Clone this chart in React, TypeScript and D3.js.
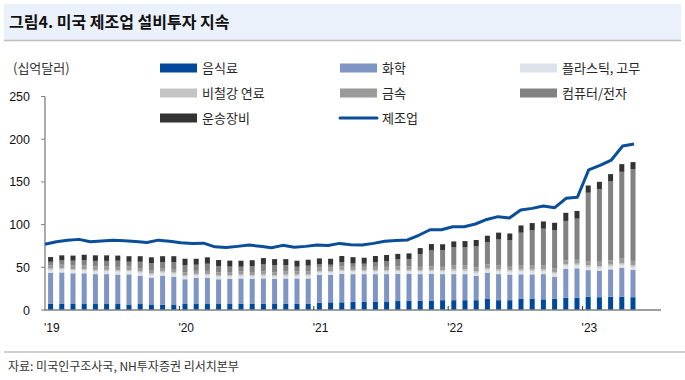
import React from "react";
import * as d3 from "d3";

const months = [
  "2019-01","2019-02","2019-03","2019-04","2019-05","2019-06","2019-07","2019-08","2019-09","2019-10","2019-11","2019-12",
  "2020-01","2020-02","2020-03","2020-04","2020-05","2020-06","2020-07","2020-08","2020-09","2020-10","2020-11","2020-12",
  "2021-01","2021-02","2021-03","2021-04","2021-05","2021-06","2021-07","2021-08","2021-09","2021-10","2021-11","2021-12",
  "2022-01","2022-02","2022-03","2022-04","2022-05","2022-06","2022-07","2022-08","2022-09","2022-10","2022-11","2022-12",
  "2023-01","2023-02","2023-03","2023-04","2023-05",
];

const food = [
  7.5, 7.5, 7, 7, 7, 7, 7, 6.5, 7, 6.5, 6, 6.5,
  7, 7, 7, 7, 7, 7.5, 7.5, 7.5, 7, 7.5, 7.5, 7.5,
  8.5, 9, 9, 9.5, 9.5, 9.5, 10, 10.5, 10.5, 11, 11, 11.5,
  11.5, 11.5, 11.5, 13, 11.5, 11.5, 13, 13.5, 12.5, 13, 14.5, 14.5,
  15.5, 15, 15.5, 15.5, 15,
];
const chemical = [
  36, 36.5, 36, 36, 35, 35, 34.5, 35.3, 33.2, 31.3, 34.2, 32.5,
  29, 30.8, 30.8, 29, 29.4, 29.5, 29, 29.5, 29.3, 29.5, 29.5, 29.5,
  32.5, 32, 33.5, 32.5, 32.5, 32.5, 32, 32, 32, 31, 31.5, 30.5,
  30.5, 30.5, 28.5, 30.6, 30.5, 30, 28.8, 28.3, 29.5, 26, 33.8, 34.3,
  31.2, 31, 32.1, 34, 32,
];
const plastic = [
  3.5, 3.5, 3.5, 3.5, 3.5, 3.5, 3.5, 3.5, 3.5, 3.5, 3.5, 3.5,
  3, 3, 3, 3, 3, 3, 3, 3, 3, 3, 3, 3,
  3, 3, 3, 3, 3, 3, 3, 3, 3, 3, 3, 3,
  3.5, 3.5, 3.5, 3.5, 3.5, 3.5, 3.5, 3.5, 3.5, 3.5, 3.5, 3.5,
  3.5, 3.5, 3.5, 3.5, 3.5,
];
const nonmetal = [
  1.5, 1.5, 1.5, 1.5, 1.5, 1.5, 1.5, 1.5, 1.5, 1.5, 1.5, 1.5,
  1.5, 1.5, 1.5, 1.5, 1.5, 1.5, 1.5, 1.5, 1.5, 1.5, 1.5, 1.5,
  1.5, 1.5, 1.5, 1.5, 1.5, 1.5, 1.5, 1.5, 1.5, 1.5, 1.5, 1.5,
  2, 2, 2, 2, 2, 2, 2, 2, 2, 2, 2, 2,
  2, 2, 2, 2, 2,
];
const metal = [
  4, 4, 4, 4, 4, 4, 4, 4, 4, 4, 4, 4,
  3.5, 3.5, 3.5, 3.5, 3.5, 3.5, 3.5, 3.5, 3.5, 3.5, 3.5, 3.5,
  4, 4, 4, 4, 4, 4, 4, 4, 4, 4, 4, 4,
  4.5, 4.5, 4.5, 4.5, 4.5, 4.5, 4.5, 4.5, 4.5, 4.5, 4.5, 4.5,
  5, 5, 5, 5, 5,
];
const computer = [
  4, 5, 5.7, 6.2, 6.5, 6.5, 7.2, 5.7, 7.3, 7.9, 6.8, 8,
  8.5, 7.2, 8.4, 7.5, 6.4, 5.7, 6.8, 8.3, 8.3, 7.6, 5.7, 6.9,
  3.9, 3.5, 5.2, 3.9, 3.7, 5.7, 6.9, 8.2, 8.8, 15, 18.7, 19.5,
  21.3, 21.7, 24.5, 25.9, 30.6, 30.1, 38.7, 41.5, 43.2, 44.6, 46, 48.2,
  80.1, 85.1, 92.5, 101.8, 107.2,
];
const transport = [
  5.5, 6, 6, 6.5, 6.5, 6.5, 6, 6.5, 6.5, 7, 7, 7,
  7.5, 7, 7.5, 7, 7, 7, 7, 7.5, 7, 7, 7, 7,
  7, 7, 7, 7.5, 7, 7, 7, 6.5, 6.5, 7, 7.5, 7,
  7, 7, 7.5, 7.5, 8, 8, 8.5, 8.5, 8.5, 8.5, 9.5, 9,
  8.5, 8.5, 8.5, 9, 8.5,
];
const manufacturing = [
  77, 80, 81.6, 82.7, 80, 80.8, 81.6, 81.2, 80.2, 79.1, 81.8, 80.6,
  78.7, 77.9, 78.3, 74, 73.2, 74.5, 76, 74.6, 73, 75.7, 73.5, 74.5,
  76, 75.5, 78, 76.5, 76, 78, 80.5, 81.5, 82, 87.5, 94, 94,
  97.5, 97.5, 100.7, 106, 109.3, 107.7, 117, 119, 121.8, 119.8, 130.8, 132,
  164, 169.3, 175.6, 192, 194.4,
];

const yearStarts = ["2019-01", "2020-01", "2021-01", "2022-01", "2023-01"];
const yearLabels = ["'19", "'20", "'21", "'22", "'23"];
const yTicks = [0, 50, 100, 150, 200, 250];

const seriesKeys = ["food", "chemical", "plastic", "nonmetal", "metal", "computer", "transport"];
const seriesNames = ["음식료", "화학", "플라스틱, 고무", "비철강 연료", "금속", "컴퓨터/전자", "운송장비"];
const seriesColors = ["#00499a", "#7f95c3", "#dde3eb", "#c4c4c4", "#9a9a9a", "#828282", "#333333"];
const lineName = "제조업";
const lineColor = "#0a4d98";

const KR = "'Noto Sans CJK KR', 'Noto Sans', sans-serif";
const NUM = "'Liberation Sans', Arial, sans-serif";

export default function App() {
  const W = 685;
  const H = 380;
  const x0 = 45;
  const step = 11.2;
  const xRight = 661;
  const yBase = 310;
  const yTop = 96.5;

  const rows = months.map((m, i) => ({
    month: m,
    food: food[i],
    chemical: chemical[i],
    plastic: plastic[i],
    nonmetal: nonmetal[i],
    metal: metal[i],
    computer: computer[i],
    transport: transport[i],
  }));
  const stacked = d3.stack<any>().keys(seriesKeys)(rows);

  const x = d3
    .scaleBand<string>()
    .domain(months)
    .range([x0, x0 + step * months.length])
    .paddingInner(0.553)
    .paddingOuter(0.2765);
  const bw = x.bandwidth();
  const st = x.step();

  const xLine = d3.scalePoint<string>().domain(months).range([45, 634]);
  const y = d3.scaleLinear().domain([0, 250]).range([yBase, yTop]);

  const linePath = d3
    .line<number>()
    .x((_, i) => xLine(months[i]) as number)
    .y((d) => y(d))
    .curve(d3.curveLinear)(manufacturing);

  const legendCols = [160, 340, 520];
  const legendRows = [68, 93, 118];
  const legendItems = seriesNames.map((n, i) => ({ name: n, color: seriesColors[i], line: false }));
  legendItems.push({ name: lineName, color: lineColor, line: true });

  return (
    <div style={{ position: "absolute", left: 0, top: 0 }}>
      <svg width={W} height={H} style={{ display: "block", background: "#ffffff" }}>
        {/* title band */}
        <rect x={4} y={4} width={677} height={36} fill="#eaf1fa" />
        <line x1={4} x2={681} y1={40.5} y2={40.5} stroke="#bdbdbd" strokeWidth={1.5} />
        <text x={9} y={27.5} fontFamily={KR} fontSize={16} fontWeight={700} fill="#111">
          그림4. 미국 제조업 설비투자 지속
        </text>

        {/* unit */}
        <text x={13} y={73} fontFamily={KR} fontSize={13} fill="#333">
          (십억달러)
        </text>

        {/* legend */}
        {legendItems.map((it, i) => {
          const lx = legendCols[i % 3];
          const ly = legendRows[Math.floor(i / 3)];
          return (
            <g key={it.name}>
              {it.line ? (
                <line x1={lx} x2={lx + 37} y1={ly} y2={ly} stroke={it.color} strokeWidth={3} strokeLinecap="round" />
              ) : (
                <rect x={lx} y={ly - 4.5} width={37} height={9} fill={it.color} />
              )}
              <text x={lx + 42} y={ly + 4.5} fontFamily={KR} fontSize={13} fill="#262626">
                {it.name}
              </text>
            </g>
          );
        })}

        {/* y axis labels and ticks */}
        {yTicks.map((t) => (
          <g key={t}>
            <text x={30} y={y(t) + 4.5} textAnchor="end" fontFamily={NUM} fontSize={12.5} fill="#111">
              {t}
            </text>
            <line x1={41} x2={45} y1={y(t)} y2={y(t)} stroke="#808080" strokeWidth={1} />
          </g>
        ))}

        {/* bars */}
        {stacked.map((s, si) => (
          <g key={s.key} fill={seriesColors[si]}>
            {s.map((d, i) => (
              <rect
                key={i}
                x={x(months[i]) as number}
                y={y(d[1])}
                width={bw}
                height={Math.max(0, y(d[0]) - y(d[1]))}
              />
            ))}
          </g>
        ))}

        {/* axes lines */}
        <line x1={45} x2={45} y1={yTop} y2={yBase} stroke="#808080" strokeWidth={1.3} />
        <line x1={44} x2={xRight} y1={yBase} y2={yBase} stroke="#808080" strokeWidth={1.5} />

        {/* x ticks and labels */}
        {yearStarts.map((m, i) => {
          const tx = (x(m) as number) + bw / 2 - st / 2;
          return (
            <g key={m}>
              {i > 0 && <line x1={tx} x2={tx} y1={yBase - 4} y2={yBase} stroke="#333" strokeWidth={1} />}
              <text x={tx - 1} y={332} fontFamily={NUM} fontSize={12} fill="#111">
                {yearLabels[i]}
              </text>
            </g>
          );
        })}

        {/* manufacturing line */}
        <path d={linePath || ""} fill="none" stroke={lineColor} strokeWidth={3} strokeLinejoin="round" />

        {/* footer */}
        <line x1={4} x2={685} y1={352} y2={352} stroke="#c0c0c0" strokeWidth={1.5} />
        <text x={8} y={371} fontFamily={KR} fontSize={12} fill="#333">
          자료: 미국인구조사국, NH투자증권 리서치본부
        </text>
      </svg>
    </div>
  );
}
